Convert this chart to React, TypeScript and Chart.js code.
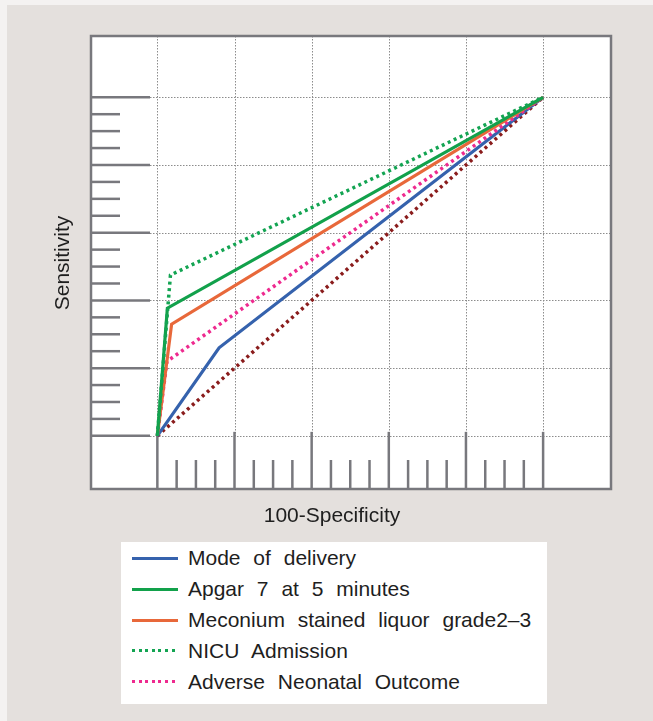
import React, { useEffect, useRef } from "react";
import { Chart, registerables } from "chart.js";

Chart.register(...registerables);

// ---- data ----
const seriesNames = [
  "Mode of delivery",
  "Apgar 7 at 5 minutes",
  "Meconium stained liquor grade2–3",
  "NICU Admission",
  "Adverse Neonatal Outcome",
];
const modeX = [0, 16, 100];
const modeY = [0, 26, 100];
const apgarX = [0, 2.6, 100];
const apgarY = [0, 37.7, 100];
const meconiumX = [0, 3.7, 100];
const meconiumY = [0, 33, 100];
const nicuX = [0, 3.4, 100];
const nicuY = [0, 47.5, 100];
const adverseX = [0, 2.5, 100];
const adverseY = [0, 22, 100];
const refX = [0, 100];
const refY = [0, 100];

const majorTicks = [0, 20, 40, 60, 80, 100];
const minorTicks = [5, 10, 15, 25, 30, 35, 45, 50, 55, 65, 70, 75, 85, 90, 95];

const xLabel = "100-Specificity";
const yLabel = "Sensitivity";

// ---- styles ----
const colors = ["#3562ad", "#12a14b", "#e8683a", "#13a452", "#ee2a8f"];
const dotted = [false, false, false, true, true];
const refColor = "#8a1c1c";
const tickColor = "#78787d";
const gridColor = "#8c8c8c";
const FONT = '"Liberation Sans", Arial, sans-serif';

const pts = (xs: number[], ys: number[]) => xs.map((v, i) => ({ x: v, y: ys[i] }));

const framePlugin = {
  id: "frame",
  beforeDatasetsDraw(chart: any) {
    const { ctx, chartArea: a, scales } = chart;
    const x = scales.x;
    const y = scales.y;
    const y0 = y.getPixelForValue(0);
    const line = (x1: number, y1: number, x2: number, y2: number) => {
      ctx.beginPath();
      ctx.moveTo(x1, y1);
      ctx.lineTo(x2, y2);
      ctx.stroke();
    };
    ctx.save();
    ctx.fillStyle = "#ffffff";
    ctx.fillRect(a.left, a.top, a.right - a.left, a.bottom - a.top);

    // dotted grid
    ctx.strokeStyle = gridColor;
    ctx.lineWidth = 1;
    ctx.setLineDash([1.5, 1.5]);
    majorTicks.forEach((v) => {
      const px = Math.round(x.getPixelForValue(v)) + 0.5;
      line(px, a.top, px, y0);
    });
    majorTicks.forEach((v) => {
      const py = Math.round(y.getPixelForValue(v)) + 0.5;
      line(a.left + 59, py, a.right, py);
    });

    // solid ticks
    ctx.setLineDash([]);
    ctx.strokeStyle = tickColor;
    ctx.lineWidth = 2.5;
    majorTicks.forEach((v) => {
      const px = x.getPixelForValue(v);
      line(px, a.bottom, px, y0 - 4);
      const py = y.getPixelForValue(v);
      line(a.left, py, a.left + 59, py);
    });
    minorTicks.forEach((v) => {
      const px = x.getPixelForValue(v);
      line(px, a.bottom, px, a.bottom - 29);
      const py = y.getPixelForValue(v);
      line(a.left, py, a.left + 29, py);
    });
    ctx.restore();
  },
  afterDraw(chart: any) {
    const { ctx, chartArea: a } = chart;
    ctx.save();
    ctx.strokeStyle = tickColor;
    ctx.lineWidth = 2.5;
    ctx.strokeRect(a.left, a.top, a.right - a.left, a.bottom - a.top);
    ctx.restore();
  },
};

export default function App() {
  const canvasRef = useRef<HTMLCanvasElement | null>(null);

  useEffect(() => {
    const xs = [modeX, apgarX, meconiumX, nicuX, adverseX];
    const ys = [modeY, apgarY, meconiumY, nicuY, adverseY];
    const drawOrder = [5, 2, 3, 1, 4];
    const datasets: any[] = seriesNames.map((name, i) => ({
      label: name,
      data: pts(xs[i], ys[i]),
      borderColor: colors[i],
      borderWidth: dotted[i] ? 3.5 : 3.2,
      borderDash: dotted[i] ? [3, 3.6] : [],
      borderCapStyle: "butt",
      pointRadius: 0,
      tension: 0,
      fill: false,
      order: drawOrder[i],
    }));
    datasets.push({
      label: "Reference",
      data: pts(refX, refY),
      borderColor: refColor,
      borderWidth: 3.5,
      borderDash: [3, 3.6],
      borderCapStyle: "butt",
      pointRadius: 0,
      tension: 0,
      fill: false,
      order: 6,
    });

    const chart = new Chart(canvasRef.current as HTMLCanvasElement, {
      type: "line",
      data: { datasets },
      options: {
        responsive: false,
        animation: false,
        events: [],
        layout: { padding: { left: 91, top: 36, right: 42, bottom: 232 } },
        scales: {
          x: { type: "linear", min: -17.2, max: 117.6, display: false },
          y: { type: "linear", min: -15.7, max: 118.1, display: false },
        },
        plugins: {
          legend: { display: false },
          tooltip: { enabled: false },
        },
      },
      plugins: [framePlugin],
    });
    return () => chart.destroy();
  }, []);

  const rowCenters = [558.3, 589.3, 620, 650.7, 681.7];

  return (
    <div
      style={{
        position: "absolute",
        left: 0,
        top: 0,
        width: 653,
        height: 721,
        background: "#f4f2f1",
        overflow: "hidden",
        fontFamily: FONT,
      }}
    >
      <div
        style={{
          position: "absolute",
          left: 7,
          top: 5,
          right: 0,
          bottom: 0,
          background: "#e4e0dd",
        }}
      />
      <canvas
        ref={canvasRef}
        width={653}
        height={721}
        style={{ position: "absolute", left: 0, top: 0, width: 653, height: 721, display: "block" }}
      />
      {/* axis titles */}
      <div
        style={{
          position: "absolute",
          left: 232,
          width: 200,
          top: 502,
          height: 26,
          lineHeight: "26px",
          textAlign: "center",
          fontSize: 21,
          color: "#1e1e1e",
          whiteSpace: "nowrap",
        }}
      >
        {xLabel}
      </div>
      <div
        style={{
          position: "absolute",
          left: 62 - 70,
          top: 262.5 - 13,
          width: 140,
          height: 26,
          lineHeight: "26px",
          textAlign: "center",
          fontSize: 21,
          color: "#1e1e1e",
          whiteSpace: "nowrap",
          transform: "rotate(-90deg)",
          transformOrigin: "50% 50%",
        }}
      >
        {yLabel}
      </div>
      {/* legend */}
      <div
        style={{
          position: "absolute",
          left: 121,
          top: 542,
          width: 426,
          height: 162,
          background: "#ffffff",
        }}
      />
      {seriesNames.map((name, i) => (
        <div key={name}>
          <div
            style={{
              position: "absolute",
              left: 132,
              top: rowCenters[i] - 1.5,
              width: 46,
              height: 3,
              background: dotted[i]
                ? `repeating-linear-gradient(to right, ${colors[i]} 0px, ${colors[i]} 3px, transparent 3px, transparent 6.6px)`
                : colors[i],
            }}
          />
          <div
            style={{
              position: "absolute",
              left: 188,
              top: rowCenters[i] - 12,
              height: 24,
              lineHeight: "24px",
              fontSize: 21,
              wordSpacing: 7,
              color: "#1e1e1e",
              whiteSpace: "nowrap",
            }}
          >
            {name}
          </div>
        </div>
      ))}
    </div>
  );
}
